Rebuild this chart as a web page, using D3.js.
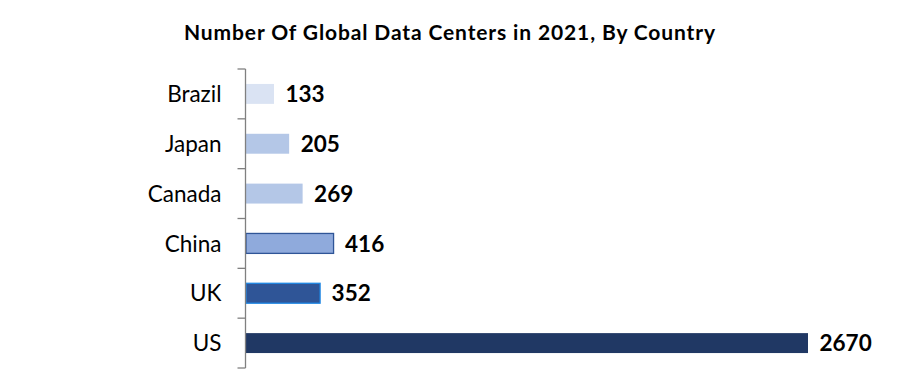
<!DOCTYPE html>
<html>
<head>
<meta charset="utf-8">
<script src="https://cdn.jsdelivr.net/npm/d3@7"></script>
<style>
  body { margin: 0; background: #fff; }
  text { font-family: Lato, 'Open Sans', sans-serif; }
</style>
</head>
<body>
<div id="wrapper"></div>
<script>
// data
const countries = ['Brazil', 'Japan', 'Canada', 'China', 'UK', 'US'];
const centers = [133, 205, 269, 416, 352, 2670];
const fills = ['#dae3f3', '#b4c7e7', '#b4c7e7', '#8faadc', '#2f5597', '#203864'];
const strokes = ['none', 'none', 'none', '#2f5597', '#1e88e5', 'none'];
const title = 'Number Of Global Data Centers in 2021, By Country';

const dataset = countries.map((c, i) => ({
  country: c,
  value: centers[i],
  fill: fills[i],
  stroke: strokes[i],
}));

const width = 900;
const height = 390;
const margin = { top: 69, right: 92, bottom: 22, left: 245.5 };
const boundedWidth = width - margin.left - margin.right;
const boundedHeight = height - margin.top - margin.bottom;

const svg = d3
  .select('#wrapper')
  .append('svg')
  .attr('width', width)
  .attr('height', height);

svg
  .append('text')
  .attr('x', 184)
  .attr('y', 40)
  .attr('font-size', 21)
  .attr('font-weight', 'bold')
  .attr('fill', '#000')
  .attr('textLength', 531)
  .attr('lengthAdjust', 'spacing')
  .text(title);

const bounds = svg
  .append('g')
  .attr('transform', `translate(${margin.left}, ${margin.top})`);

// scales
const xScale = d3
  .scaleLinear()
  .domain([0, d3.max(centers)])
  .range([0, 562]);

const yScale = d3
  .scaleBand()
  .domain(countries)
  .range([0, boundedHeight])
  .paddingInner(0.6)
  .paddingOuter(0.3);

// bars
bounds
  .selectAll('rect.bar')
  .data(dataset)
  .join('rect')
  .attr('class', 'bar')
  .attr('x', 0.5)
  .attr('y', (d) => yScale(d.country))
  .attr('width', (d) => xScale(d.value))
  .attr('height', yScale.bandwidth())
  .attr('fill', (d) => d.fill)
  .attr('stroke', (d) => d.stroke)
  .attr('stroke-width', 1.3);

// value labels
bounds
  .selectAll('text.value')
  .data(dataset)
  .join('text')
  .attr('class', 'value')
  .attr('x', (d) => xScale(d.value) + 12)
  .attr('y', (d) => yScale(d.country) + yScale.bandwidth() / 2)
  .attr('dy', '0.36em')
  .attr('font-size', 22.5)
  .attr('font-weight', 'bold')
  .attr('fill', '#000')
  .text((d) => d.value);

// y axis with ticks between categories
const yAxis = bounds.append('g').attr('class', 'y-axis');
const step = boundedHeight / countries.length;

yAxis
  .append('line')
  .attr('x1', 0)
  .attr('x2', 0)
  .attr('y1', 0)
  .attr('y2', boundedHeight)
  .attr('stroke', '#808080')
  .attr('stroke-width', 1.3);

yAxis
  .selectAll('line.tick')
  .data(d3.range(countries.length + 1))
  .join('line')
  .attr('class', 'tick')
  .attr('x1', -8)
  .attr('x2', 0)
  .attr('y1', (i) => i * step)
  .attr('y2', (i) => i * step)
  .attr('stroke', '#808080')
  .attr('stroke-width', 1.3);

yAxis
  .selectAll('text')
  .data(countries)
  .join('text')
  .attr('x', -24)
  .attr('y', (d) => yScale(d) + yScale.bandwidth() / 2)
  .attr('dy', '0.36em')
  .attr('text-anchor', 'end')
  .attr('font-size', 22.5)
  .attr('fill', '#000')
  .text((d) => d);
</script>
</body>
</html>
